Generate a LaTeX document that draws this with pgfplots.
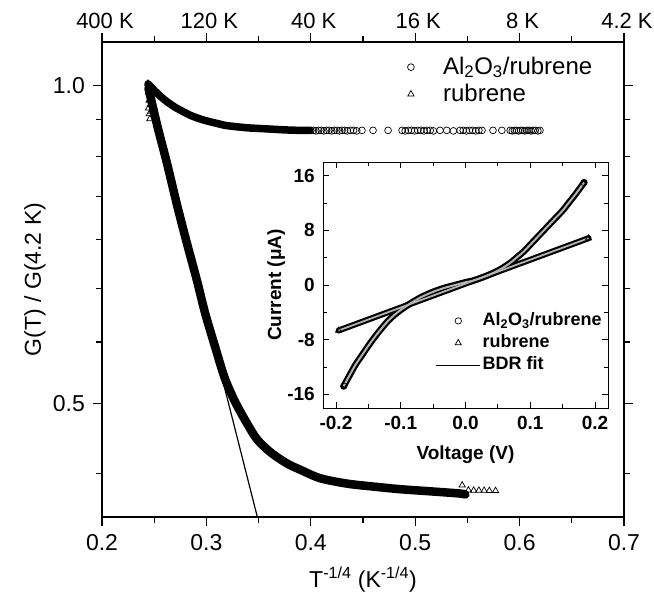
\documentclass[border=0pt]{standalone}
\usepackage{fontspec}
\setmainfont{Liberation Sans}
\usepackage{pgfplots}
\pgfplotsset{compat=1.18}
\begin{document}
\fontsize{24}{28}\selectfont
\begin{tikzpicture}
\path[use as bounding box] (0,0) rectangle (654pt,598pt);
% ---------------- main axis ----------------
\begin{axis}[
  at={(102pt,81pt)}, anchor=south west,
  scale only axis, width=522pt, height=475pt,
  xmin=0.2, xmax=0.7, ymode=log, ymin=0.39, ymax=1.1,
  xtick={0.2,0.3,0.4,0.5,0.6,0.7}, xticklabels={0.2,0.3,0.4,0.5,0.6,0.7},
  minor xtick={0.25,0.35,0.45,0.55,0.65},
  ytick={0.5,1.0}, yticklabels={0.5,1.0},
  minor ytick={0.428571,0.571429,0.642857,0.714286,0.785714,0.857143,0.928571},
  tick align=outside, major tick length=9pt, minor tick length=6pt,
  axis line style={line width=1.1pt},
  every tick/.style={line width=1.1pt, black},
  tick label style={font=\fontsize{23}{27}\selectfont},
  label style={font=\fontsize{23}{27}\selectfont},
  xlabel={T\textsuperscript{-1/4} (K\textsuperscript{-1/4})},
  ylabel={G(T) / G(4.2 K)},
  ylabel style={yshift=-9pt},
  legend style={at={(0.57,0.978)}, anchor=north west, draw=none, fill=none,
    font=\fontsize{24}{28}\selectfont, row sep=2pt},
  legend cell align=left,
  legend image code/.code={\path (0pt,0pt) (38pt,0pt); \draw[#1] plot coordinates {(8pt,0pt)};},
]
% Al2O3/rubrene dense band
\addplot[black, line width=7.5pt, line join=round, line cap=round, smooth, forget plot] coordinates {
(0.2441,1.004) (0.2500,0.990) (0.2560,0.977) (0.2620,0.966) (0.2700,0.954)
(0.2776,0.945) (0.2850,0.937) (0.2939,0.930) (0.3020,0.925) (0.3099,0.921)
(0.3180,0.917) (0.3255,0.915) (0.3400,0.912) (0.3578,0.910) (0.3750,0.908)
(0.3897,0.907) (0.3990,0.907)};
% rubrene dense band
\addplot[black, line width=8.5pt, line join=round, line cap=round, smooth, tension=0.5, forget plot] coordinates {
(0.2445,0.995) (0.2530,0.916) (0.2620,0.846) (0.2720,0.770) (0.2810,0.711)
(0.2907,0.655) (0.2987,0.609) (0.3082,0.566) (0.3170,0.530) (0.3240,0.510)
(0.3300,0.496) (0.3386,0.479) (0.3482,0.4625) (0.3609,0.4496) (0.3769,0.4385)
(0.3897,0.4325) (0.4088,0.4245) (0.4344,0.4195) (0.4596,0.4168) (0.4854,0.4144)
(0.5171,0.4123) (0.5429,0.4105) (0.5480,0.4096)};
% linear fit
\addplot[black, line width=1.2pt, forget plot] coordinates {(0.246,0.983) (0.3488,0.39)};
% Al2O3/rubrene circles
\addplot[only marks, mark=o, mark size=3.4pt, mark options={line width=0.7pt, fill=white}] coordinates {
(0.4000,0.907) (0.4025,0.907) (0.4050,0.906) (0.4075,0.907) (0.4100,0.907)
(0.4125,0.906) (0.4150,0.907) (0.4175,0.907) (0.4200,0.906) (0.4225,0.907)
(0.4250,0.907) (0.4275,0.906) (0.4300,0.907) (0.4325,0.907) (0.4350,0.906)
(0.4380,0.907) (0.4410,0.907) (0.4440,0.906) (0.4490,0.907) (0.4596,0.907)
(0.4740,0.907) (0.4874,0.907) (0.4904,0.906) (0.4934,0.907) (0.4964,0.907)
(0.4994,0.906) (0.5024,0.907) (0.5054,0.907) (0.5084,0.906) (0.5114,0.907)
(0.5144,0.907) (0.5174,0.906) (0.5238,0.907) (0.5302,0.907) (0.5366,0.906)
(0.5430,0.907) (0.5460,0.907) (0.5490,0.906) (0.5520,0.907) (0.5550,0.907)
(0.5580,0.906) (0.5610,0.907) (0.5640,0.907) (0.5745,0.907) (0.5830,0.907)
(0.5910,0.907) (0.5930,0.906) (0.5950,0.907) (0.5970,0.907) (0.5990,0.906)
(0.6010,0.907) (0.6030,0.907) (0.6050,0.906) (0.6070,0.907) (0.6090,0.907)
(0.6110,0.906) (0.6130,0.907) (0.6150,0.907) (0.6175,0.906) (0.6195,0.907)};
\addlegendentry{Al\textsubscript{2}O\textsubscript{3}/rubrene}
% rubrene triangles
\addplot[only marks, mark=triangle, mark size=3.6pt, mark options={line width=0.7pt, fill=white}] coordinates {
(0.2440,1.005) (0.2445,0.985) (0.2450,0.968) (0.2445,0.952) (0.2452,0.940)
(0.2458,0.930) (0.2465,0.960) (0.2475,0.945)
(0.408,0.4240) (0.411,0.4234) (0.414,0.4228) (0.417,0.4222) (0.420,0.4216)
(0.423,0.4210) (0.426,0.4205) (0.429,0.4200)
(0.436,0.4193) (0.439,0.4190) (0.442,0.4187) (0.445,0.4184) (0.448,0.4181) (0.451,0.4178)
(0.464,0.4165) (0.467,0.4162) (0.470,0.4159) (0.473,0.4157) (0.476,0.4154)
(0.482,0.4148) (0.485,0.4145) (0.488,0.4142) (0.491,0.4140) (0.494,0.4137) (0.497,0.4135)
(0.500,0.4134) (0.504,0.4131) (0.508,0.4128) (0.512,0.4126) (0.516,0.4124)
(0.521,0.4120) (0.526,0.4116) (0.545,0.4180)
(0.551,0.4135) (0.556,0.4133) (0.561,0.4133) (0.566,0.4132) (0.571,0.4131) (0.577,0.4130)};
\addlegendentry{rubrene}
\end{axis}
% ---------------- top temperature labels ----------------
\begin{axis}[
  at={(102pt,81pt)}, anchor=south west,
  scale only axis, width=522pt, height=475pt,
  xmin=0.2, xmax=0.7, ymin=0, ymax=1,
  axis x line*=top, hide y axis,
  axis line style={draw=none}, xtick style={draw=none},
  xtick={0.2,0.3,0.4,0.5,0.6,0.7},
  xticklabels={400 K,120 K,40 K,16 K,8 K,4.2 K},
  xticklabel style={font=\fontsize{22}{26}\selectfont, xshift=3pt, yshift=5pt},
]
\addplot[draw=none, forget plot] coordinates {(0.3,0.5)};
\end{axis}
% ---------------- inset ----------------
\begin{axis}[
  at={(323pt,190pt)}, anchor=south west,
  scale only axis, width=285pt, height=246pt,
  xmin=-0.22, xmax=0.22, ymin=-18, ymax=18,
  axis background/.style={fill=white},
  xtick={-0.2,-0.1,0,0.1,0.2}, xticklabels={-0.2,-0.1,0.0,0.1,0.2},
  minor x tick num=1,
  ytick={-16,-8,0,8,16}, yticklabels={-16,-8,0,8,16},
  minor y tick num=1,
  tick align=inside, major tick length=6pt, minor tick length=4pt,
  axis line style={line width=0.9pt},
  every tick/.style={line width=0.9pt, black},
  tick label style={font=\bfseries\fontsize{19}{23}\selectfont},
  label style={font=\bfseries\fontsize{19}{23}\selectfont},
  xlabel={Voltage (V)}, ylabel={Current (μA)},
  ylabel style={yshift=-14pt},
  legend style={at={(0.385,0.405)}, anchor=north west, draw=none, fill=none,
    font=\bfseries\fontsize{18}{22}\selectfont, row sep=1.5pt},
  legend cell align=left,
  legend image code/.code={\draw[mark repeat=2,mark phase=2,#1] plot coordinates {(0pt,0pt) (22pt,0pt) (44pt,0pt)};},
]
% BDR fit line (under the data)
\addplot[black, line width=0.6pt, smooth, forget plot] coordinates {
(-0.188,-14.8) (-0.17,-11.7) (-0.15,-8.9) (-0.13,-6.4) (-0.11,-4.4) (-0.09,-3.0)
(-0.07,-1.85) (-0.05,-1.0) (-0.03,-0.35) (-0.01,0.2) (0.01,0.55) (0.03,1.25)
(0.05,2.1) (0.07,3.3) (0.09,4.9) (0.11,6.9) (0.13,8.9) (0.15,10.9) (0.17,13.3) (0.183,15.0)};
% Al2O3/rubrene I-V band
\addplot[black, line width=6.5pt, line join=round, line cap=round, smooth, forget plot] coordinates {
(-0.188,-14.8) (-0.18,-13.4) (-0.17,-11.7) (-0.16,-10.3) (-0.15,-8.9) (-0.14,-7.6)
(-0.13,-6.4) (-0.12,-5.3) (-0.11,-4.4) (-0.10,-3.65) (-0.09,-3.0) (-0.08,-2.4)
(-0.07,-1.85) (-0.06,-1.4) (-0.05,-1.0) (-0.04,-0.65) (-0.03,-0.35) (-0.02,-0.1)
(-0.01,0.15) (0.00,0.4) (0.01,0.6) (0.02,0.9) (0.03,1.25) (0.04,1.65) (0.05,2.1)
(0.06,2.65) (0.07,3.3) (0.08,4.1) (0.09,4.9) (0.10,5.9) (0.11,6.9) (0.12,7.9)
(0.13,8.9) (0.14,9.9) (0.15,10.9) (0.16,12.1) (0.17,13.3) (0.18,14.6) (0.183,15.0)};
% rubrene I-V band
\addplot[black, line width=6pt, line join=round, line cap=round, forget plot] coordinates {
(-0.196,-6.66) (-0.18,-6.10) (-0.16,-5.40) (-0.14,-4.70) (-0.12,-4.00) (-0.10,-3.30)
(-0.08,-2.60) (-0.06,-1.90) (-0.04,-1.20) (-0.02,-0.50) (0.00,0.20) (0.02,0.90)
(0.04,1.60) (0.06,2.30) (0.08,3.00) (0.10,3.70) (0.12,4.40) (0.14,5.10) (0.16,5.80)
(0.18,6.50) (0.190,6.85)};
\addplot[gray!60, line width=2pt, line join=round, smooth, forget plot] coordinates {
(-0.188,-14.8) (-0.18,-13.4) (-0.17,-11.7) (-0.16,-10.3) (-0.15,-8.9) (-0.14,-7.6)
(-0.13,-6.4) (-0.12,-5.3) (-0.11,-4.4) (-0.10,-3.65) (-0.09,-3.0) (-0.08,-2.4)
(-0.07,-1.85) (-0.06,-1.4) (-0.05,-1.0) (-0.04,-0.65) (-0.03,-0.35) (-0.02,-0.1)
(-0.01,0.15) (0.00,0.4) (0.01,0.6) (0.02,0.9) (0.03,1.25) (0.04,1.65) (0.05,2.1)
(0.06,2.65) (0.07,3.3) (0.08,4.1) (0.09,4.9) (0.10,5.9) (0.11,6.9) (0.12,7.9)
(0.13,8.9) (0.14,9.9) (0.15,10.9) (0.16,12.1) (0.17,13.3) (0.18,14.6) (0.183,15.0)};
\addplot[gray!60, line width=1.8pt, line join=round, forget plot] coordinates {
(-0.196,-6.66) (-0.18,-6.10) (-0.16,-5.40) (-0.14,-4.70) (-0.12,-4.00) (-0.10,-3.30)
(-0.08,-2.60) (-0.06,-1.90) (-0.04,-1.20) (-0.02,-0.50) (0.00,0.20) (0.02,0.90)
(0.04,1.60) (0.06,2.30) (0.08,3.00) (0.10,3.70) (0.12,4.40) (0.14,5.10) (0.16,5.80)
(0.18,6.50) (0.190,6.85)};
\addplot[only marks, mark=o, mark size=3.2pt, mark options={line width=0.7pt, fill=white}] coordinates {(-0.188,-14.8) (0.183,15.0)};
\addlegendentry{Al\textsubscript{2}O\textsubscript{3}/rubrene}
\addplot[only marks, mark=triangle, mark size=3.5pt, mark options={line width=0.7pt, fill=white}] coordinates {(-0.196,-6.66) (0.190,6.85)};
\addlegendentry{rubrene}
\addlegendimage{black, line width=0.7pt}
\addlegendentry{BDR fit}
\end{axis}
\end{tikzpicture}
\end{document}
